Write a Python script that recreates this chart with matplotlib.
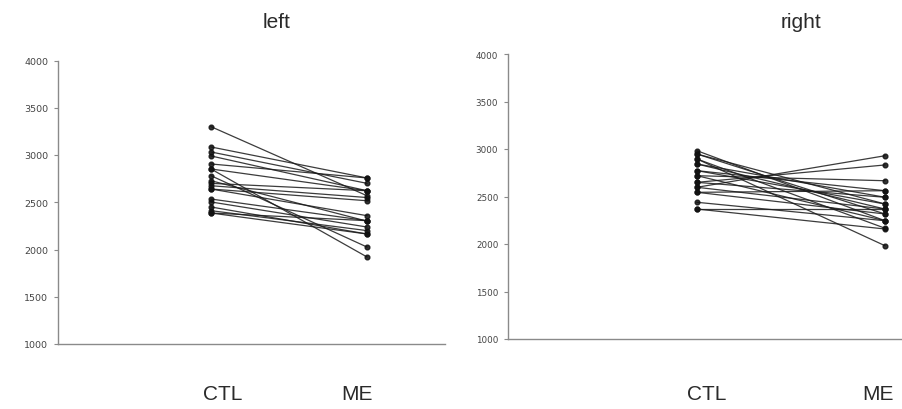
import matplotlib
matplotlib.use("Agg")
import matplotlib.pyplot as plt

# ---- data ----
conditions = ["CTL", "ME"]
yticks = [1000, 1500, 2000, 2500, 3000, 3500, 4000]
panel_titles = ["left", "right"]

left_ctl = [3300, 3085, 3032, 2990, 2905, 2852, 2852, 2781, 2728, 2700,
            2675, 2640, 2640, 2534, 2503, 2450, 2411, 2386, 2386]
left_me = [2569, 2757, 2700, 2622, 2757, 1921, 2622, 2026, 2300, 2622,
           2550, 2516, 2358, 2305, 2238, 2164, 2200, 2164, 2305]

right_ctl = [2982, 2947, 2947, 2895, 2895, 2842, 2842, 2772, 2772, 2719,
             2719, 2649, 2649, 2597, 2597, 2544, 2544, 2439, 2368, 2368]
right_me = [2245, 2316, 2421, 1982, 2166, 2368, 2492, 2561, 2421, 2666,
            2245, 2832, 2492, 2929, 2368, 2316, 2561, 2245, 2158, 2368]

W, H = 903, 410
fig = plt.figure(figsize=(W / 100, H / 100), dpi=100)

gray = "#8a8a8a"

def make_axes(x0, x1, ytop, ybot, xlim, lsize):
    ax = fig.add_axes([x0 / W, 1 - ybot / H, (x1 - x0) / W, (ybot - ytop) / H])
    ax.set_xlim(*xlim)
    ax.set_ylim(1000, 4000)
    for s in ["top", "right"]:
        ax.spines[s].set_visible(False)
    for s in ["left", "bottom"]:
        ax.spines[s].set_color(gray)
        ax.spines[s].set_linewidth(1.0)
    ax.set_yticks(yticks)
    ax.set_yticklabels([str(t) for t in yticks])
    ax.tick_params(axis="y", colors=gray, labelcolor="#444444", labelsize=lsize,
                   length=3, width=0.8, direction="out", pad=4)
    ax.set_xticks([])
    return ax

# left panel: CTL x=211, ME x=367, axis from 58 to 445
axL = make_axes(58, 445, 61.5, 345, (1 - 153 / 156, 2 + 78 / 156), 6.8)
# right panel: CTL x=697, ME x=885, axis from 508 to 903
axR = make_axes(508, 903, 55, 340, (1 - 189 / 188, 2 + 18 / 188), 6.3)

for ax, ctl, me in [(axL, left_ctl, left_me), (axR, right_ctl, right_me)]:
    for a, b in zip(ctl, me):
        ax.plot([1, 2], [a, b], color="#1a1a1a", linewidth=0.9, alpha=0.85,
                marker="o", markersize=3.4, markerfacecolor="#111111",
                markeredgecolor="#111111", clip_on=False)

# titles
fig.text(277 / W, 1 - 23 / H, panel_titles[0], ha="center", va="center",
         fontsize=15, color="#2a2a2a", family="Liberation Sans")
fig.text(801 / W, 1 - 23 / H, panel_titles[1], ha="center", va="center",
         fontsize=15, color="#2a2a2a", family="Liberation Sans")

# category labels
for xpix, lab in [(223, conditions[0]), (357, conditions[1]),
                  (707, conditions[0]), (878, conditions[1])]:
    fig.text(xpix / W, 1 - 395 / H, lab, ha="center", va="center",
             fontsize=15, color="#2a2a2a", family="Liberation Sans")

fig.savefig("out.png", dpi=100)
